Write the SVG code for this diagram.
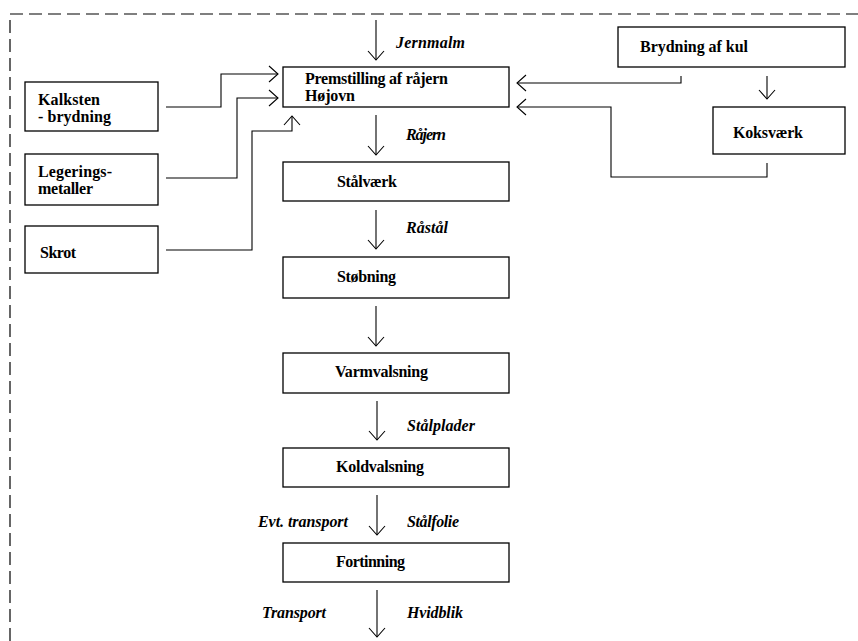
<svg xmlns="http://www.w3.org/2000/svg" width="858" height="641" viewBox="0 0 858 641">
<style>
.bx{fill:#fff;stroke:#000;stroke-width:1.3}
.t{font-family:"Liberation Serif",serif;font-weight:bold;font-size:16px;fill:#000}
.i{font-family:"Liberation Serif",serif;font-weight:bold;font-style:italic;font-size:16px;fill:#000}
.c{fill:none;stroke:#000;stroke-width:1.1}
.fr{fill:none;stroke:#000;stroke-width:1.2;stroke-dasharray:13 6}
</style>
<defs>
<marker id="a" markerUnits="userSpaceOnUse" markerWidth="20" markerHeight="20" viewBox="-10 -10 20 20" refX="0" refY="0" orient="auto" overflow="visible">
<path d="M-9,-8 L0,0 L-9,8" fill="none" stroke="#000" stroke-width="1.1"/>
</marker>
</defs>
<rect width="858" height="641" fill="#fff"/>
<g id="frame">
<path class="fr" d="M10,641 L10,14 L858,14"/>
</g>
<g id="connectors">
<path class="c" d="M376,20 L376,60" marker-end="url(#a)"/>
<path class="c" d="M166,107 L221,107 L221,74 L278,74" marker-end="url(#a)"/>
<path class="c" d="M166,178 L237,178 L237,98 L278,98" marker-end="url(#a)"/>
<path class="c" d="M166,250 L252,250 L252,131 L292,131 L292,116" marker-end="url(#a)"/>
<path class="c" d="M681,76 L681,83 L517,83" marker-end="url(#a)"/>
<path class="c" d="M767,76 L767,99" marker-end="url(#a)"/>
<path class="c" d="M767,163 L767,177 L611,177 L611,107 L517,107" marker-end="url(#a)"/>
<path class="c" d="M376,115 L376,155" marker-end="url(#a)"/>
<path class="c" d="M376,210 L376,249" marker-end="url(#a)"/>
<path class="c" d="M376,306 L376,346" marker-end="url(#a)"/>
<path class="c" d="M377,401 L377,440" marker-end="url(#a)"/>
<path class="c" d="M377,495 L377,535" marker-end="url(#a)"/>
<path class="c" d="M377,590 L377,637" marker-end="url(#a)"/>
</g>
<g id="labels">
<text class="i" x="396" y="48" textLength="69">Jernmalm</text>
<text class="i" x="406" y="140" textLength="40">Råjern</text>
<text class="i" x="406" y="233" textLength="42">Råstål</text>
<text class="i" x="407" y="431" textLength="68">Stålplader</text>
<text class="i" x="258" y="527" textLength="90">Evt. transport</text>
<text class="i" x="407" y="527" textLength="52">Stålfolie</text>
<text class="i" x="262" y="618" textLength="64">Transport</text>
<text class="i" x="407" y="618" textLength="56">Hvidblik</text>
</g>
<g id="hojovn">
<rect class="bx" x="283" y="67" width="226" height="40"/>
<text class="t" x="305" y="84" textLength="143">Premstilling af råjern</text>
<text class="t" x="305" y="101" textLength="50">Højovn</text>
</g>
<g id="kalksten">
<rect class="bx" x="25" y="82" width="133" height="49"/>
<text class="t" x="38" y="105" textLength="62">Kalksten</text>
<text class="t" x="38" y="122" textLength="73">- brydning</text>
</g>
<g id="legering">
<rect class="bx" x="25" y="154" width="133" height="51"/>
<text class="t" x="38" y="177" textLength="74">Legerings-</text>
<text class="t" x="38" y="194" textLength="55">metaller</text>
</g>
<g id="skrot">
<rect class="bx" x="25" y="226" width="133" height="47"/>
<text class="t" x="40" y="258" textLength="36">Skrot</text>
</g>
<g id="kul">
<rect class="bx" x="618" y="27" width="227" height="40"/>
<text class="t" x="640" y="52" textLength="108">Brydning af kul</text>
</g>
<g id="koks">
<rect class="bx" x="713" y="107" width="132" height="47"/>
<text class="t" x="733" y="138" textLength="70">Koksværk</text>
</g>
<g id="staalvaerk">
<rect class="bx" x="283" y="162" width="226" height="39"/>
<text class="t" x="337" y="187" textLength="60">Stålværk</text>
</g>
<g id="stoebning">
<rect class="bx" x="283" y="257" width="226" height="41"/>
<text class="t" x="337" y="282" textLength="59">Støbning</text>
</g>
<g id="varmvalsning">
<rect class="bx" x="283" y="353" width="226" height="40"/>
<text class="t" x="335" y="377" textLength="93">Varmvalsning</text>
</g>
<g id="koldvalsning">
<rect class="bx" x="283" y="448" width="226" height="39"/>
<text class="t" x="336" y="472" textLength="88">Koldvalsning</text>
</g>
<g id="fortinning">
<rect class="bx" x="283" y="543" width="226" height="39"/>
<text class="t" x="336" y="567" textLength="69">Fortinning</text>
</g>
</svg>
